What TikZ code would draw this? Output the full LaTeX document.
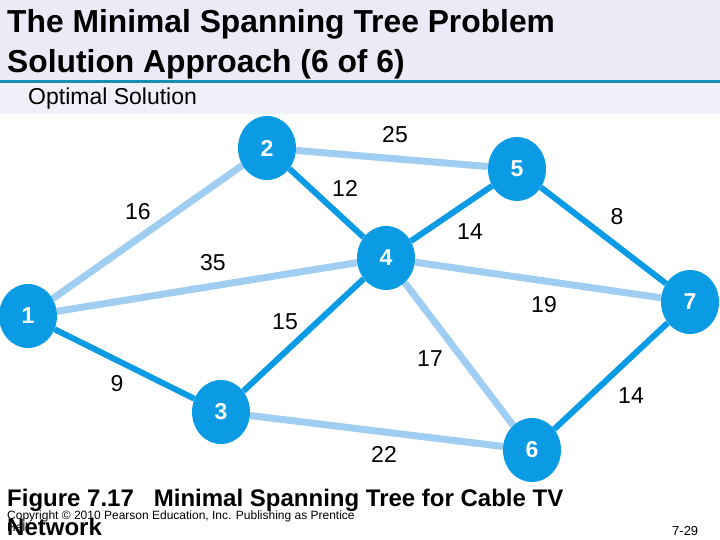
\documentclass[tikz,border=0pt]{standalone}
\usepackage{fontspec}
\setmainfont{Liberation Sans}
\usetikzlibrary{shapes.geometric,backgrounds}
\definecolor{nodeblue}{RGB}{10,155,228}
\definecolor{edgelight}{RGB}{160,206,242}
\definecolor{bandtop}{RGB}{235,235,248}
\definecolor{bandsub}{RGB}{239,240,250}
\definecolor{ruleteal}{RGB}{26,142,172}

\begin{document}
\begin{tikzpicture}[x=1pt,y=-1pt,
	vtx/.style={ellipse,fill=nodeblue,text=white,minimum width=58pt,minimum height=64pt,inner sep=0pt,font=\fontsize{23}{23}\selectfont\bfseries},
	tree/.style={draw=nodeblue,line width=6pt},
	spare/.style={draw=edgelight,line width=7pt},
	wt/.style={inner sep=0pt,font=\fontsize{23}{23}\selectfont},
	txt/.style={anchor=base west,inner sep=0pt}]
\useasboundingbox (0,0) rectangle (720,540);
\fill[bandtop] (0,0) rectangle (720,80);
\fill[ruleteal] (0,80) rectangle (720,83.5);
\fill[bandsub] (0,83.5) rectangle (720,114);

\path (7,33) node[txt,font=\fontsize{31.8}{31.8}\selectfont\bfseries] (title1) {The Minimal Spanning Tree Problem}
		(7,73) node[txt,font=\fontsize{31.8}{31.8}\selectfont\bfseries] (title2) {Solution Approach (6 of 6)}
		(28,105) node[txt,font=\fontsize{23}{23}\selectfont] (sub) {Optimal Solution};

\path (28,316) node[vtx] (n1) {1}
		(267,148) node[vtx] (n2) {2}
		(221,412) node[vtx] (n3) {3}
		(386,258) node[vtx] (n4) {4}
		(517,169) node[vtx] (n5) {5}
		(532,450) node[vtx] (n6) {6}
		(690,302) node[vtx] (n7) {7};

\path (395,135) node[wt] (w25) {25}
		(345,188) node[wt] (w24) {12}
		(138,212) node[wt] (w12) {16}
		(470,232) node[wt] (w45) {14}
		(617,217) node[wt] (w57) {8}
		(213,263) node[wt] (w14) {35}
		(544,305) node[wt] (w47) {19}
		(285,322) node[wt] (w34) {15}
		(430,359) node[wt] (w46) {17}
		(117,384) node[wt] (w13) {9}
		(631,396) node[wt] (w67) {14}
		(384,454) node[wt] (w36) {22};

\begin{scope}[on background layer]
\draw[spare] (node cs:name=n1) -- (node cs:name=n2);
\draw[spare] (node cs:name=n1) -- (node cs:name=n4);
\draw[spare] (node cs:name=n2) -- (node cs:name=n5);
\draw[spare] (node cs:name=n4) -- (node cs:name=n7);
\draw[spare] (node cs:name=n4) -- (node cs:name=n6);
\draw[spare] (node cs:name=n3) -- (node cs:name=n6);

\draw[tree] (node cs:name=n1) -- (node cs:name=n3);
\draw[tree] (node cs:name=n3) -- (node cs:name=n4);
\draw[tree] (node cs:name=n2) -- (node cs:name=n4);
\draw[tree] (node cs:name=n4) -- (node cs:name=n5);
\draw[tree] (node cs:name=n5) -- (node cs:name=n7);
\draw[tree] (node cs:name=n7) -- (node cs:name=n6);
\end{scope}

\path (7,506) node[txt,font=\fontsize{24}{24}\selectfont\bfseries] (cap1) {Figure 7.17\ \ \ Minimal Spanning Tree for Cable TV}
		(7,519) node[txt,font=\fontsize{12}{12}\selectfont] (copy1) {Copyright © 2010 Pearson Education, Inc. Publishing as Prentice}
		(7,531) node[txt,font=\fontsize{12}{12}\selectfont] (copy2) {Hall}
		(7,535) node[txt,font=\fontsize{24}{24}\selectfont\bfseries] (cap2) {Network}
		(672,535) node[txt,font=\fontsize{13}{13}\selectfont] (page) {7-29};
\end{tikzpicture}
\end{document}
